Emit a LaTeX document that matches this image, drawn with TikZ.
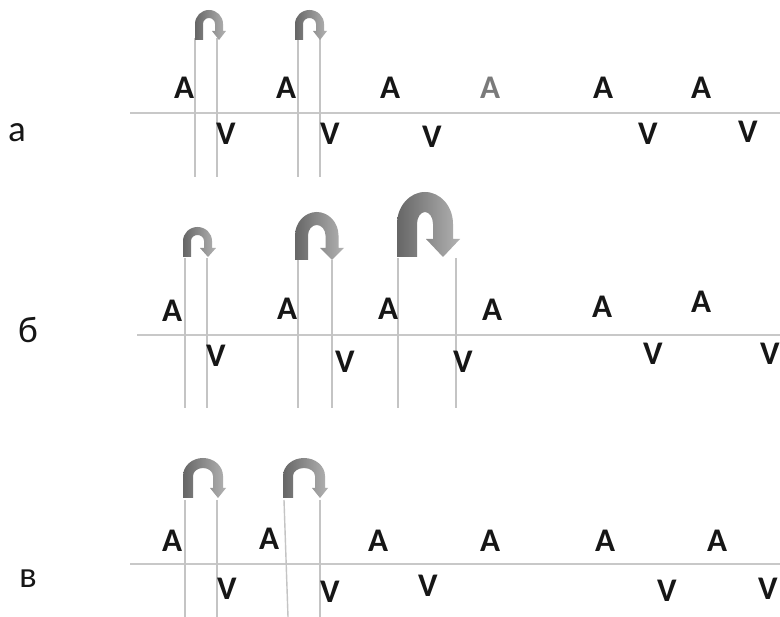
\documentclass[tikz,border=0pt]{standalone}
\usepackage{fontspec}
\setmainfont{Carlito}
\definecolor{txt}{HTML}{161616}
\definecolor{vline}{HTML}{C4C4C4}
\definecolor{hline}{HTML}{C8C8C8}
\tikzset{
  letter/.style={font=\fontsize{33}{33}\selectfont\bfseries, text=txt, anchor=base, inner sep=0pt},
  rowlabel/.style={font=\fontsize{37}{37}\selectfont, text=txt, anchor=base, inner sep=0pt},
  axisline/.style={draw=hline, line width=2pt},
  guide/.style={draw=vline, line width=1.4pt},
  arrowshade/.style={left color=black!60, right color=black!30, draw=none}
}
% #1 left x, #2 tip x, #3 base y, #4 top y, #5 thickness, #6 head half width, #7 head length, #8 inner-arc y radius
\newcommand\uarr[8]{%
  \pgfmathsetmacro\ax{#1+#5/2}%
  \pgfmathsetmacro\arx{(#2-\ax)/2}%
  \pgfmathsetmacro\ary{#8}%
  \pgfmathsetmacro\ayc{#4+#5/2+#8}%
  \pgfmathsetmacro\aorx{\arx+#5/2}%
  \pgfmathsetmacro\aory{\ary+#5/2}%
  \pgfmathsetmacro\airx{\arx-#5/2}%
  \pgfmathsetmacro\airy{\ary-#5/2}%
  \pgfmathsetmacro\ahb{#3-#7}%
  \shade[arrowshade] (#1,#3) -- (#1,\ayc)
    arc[start angle=180, end angle=360, x radius=\aorx, y radius=\aory]
    -- (#2+#5/2,\ahb) -- (#2+#6,\ahb) -- (#2,#3) -- (#2-#6,\ahb) -- (#2-#5/2,\ahb)
    -- (#2-#5/2,\ayc)
    arc[start angle=360, end angle=180, x radius=\airx, y radius=\airy]
    -- (#1+#5,#3) -- cycle;
}
\begin{document}
\begin{tikzpicture}[x=1pt,y=-1pt]
\useasboundingbox[fill=white] (0,0) rectangle (780,617);

% ---------- row a ----------
\coordinate (la1) at (130,113); \coordinate (la2) at (780,113);
\draw[axisline] (la1) -- (la2);
\coordinate (ga1t) at (195,38);  \coordinate (ga1b) at (195,177);
\coordinate (ga2t) at (217,38);  \coordinate (ga2b) at (217,177);
\coordinate (ga3t) at (298,38);  \coordinate (ga3b) at (298,177);
\coordinate (ga4t) at (320,38);  \coordinate (ga4b) at (320,177);
\draw[guide] (ga1t) -- (ga1b);
\draw[guide] (ga2t) -- (ga2b);
\draw[guide] (ga3t) -- (ga3b);
\draw[guide] (ga4t) -- (ga4b);
\uarr{195}{219}{40}{10}{8}{7}{9}{10}
\uarr{295}{320}{40}{10}{8}{7}{9}{10}
\node[rowlabel] (ra) at (17,142) {а};
\node[letter] (aA1) at (184,99) {A};
\node[letter] (aA2) at (286,99) {A};
\node[letter] (aA3) at (390,99) {A};
\node[letter, text=black!52] (aA4) at (490,99) {A};
\node[letter] (aA5) at (603,99) {A};
\node[letter] (aA6) at (701,99) {A};
\node[letter] (aV1) at (226,145) {V};
\node[letter] (aV2) at (330,145) {V};
\node[letter] (aV3) at (432,148) {V};
\node[letter] (aV4) at (648,145) {V};
\node[letter] (aV5) at (748,143) {V};

% ---------- row b ----------
\coordinate (lb1) at (137,335); \coordinate (lb2) at (780,335);
\draw[axisline] (lb1) -- (lb2);
\coordinate (gb1t) at (185,258); \coordinate (gb1b) at (185,408);
\coordinate (gb2t) at (207,258); \coordinate (gb2b) at (207,408);
\coordinate (gb3t) at (298,260); \coordinate (gb3b) at (298,408);
\coordinate (gb4t) at (332,260); \coordinate (gb4b) at (332,408);
\coordinate (gb5t) at (398,258); \coordinate (gb5b) at (398,408);
\coordinate (gb6t) at (456,258); \coordinate (gb6b) at (456,408);
\draw[guide] (gb1t) -- (gb1b);
\draw[guide] (gb2t) -- (gb2b);
\draw[guide] (gb3t) -- (gb3b);
\draw[guide] (gb4t) -- (gb4b);
\draw[guide] (gb5t) -- (gb5b);
\draw[guide] (gb6t) -- (gb6b);
\uarr{183}{208}{257}{227}{8}{8}{9}{10}
\uarr{295}{332}{260}{212}{13}{12}{12}{17}
\uarr{397}{443}{257}{192}{20}{17}{18}{22}
\node[rowlabel] (rb) at (28,343) {б};
\node[letter] (bA1) at (172,322) {A};
\node[letter] (bA2) at (287,320) {A};
\node[letter] (bA3) at (388,320) {A};
\node[letter] (bA4) at (492,321) {A};
\node[letter] (bA5) at (602,318) {A};
\node[letter] (bA6) at (701,313) {A};
\node[letter] (bV1) at (216,367) {V};
\node[letter] (bV2) at (345,373) {V};
\node[letter] (bV3) at (463,373) {V};
\node[letter] (bV4) at (653,365) {V};
\node[letter] (bV5) at (770,365) {V};

% ---------- row c ----------
\coordinate (lc1) at (130,564); \coordinate (lc2) at (780,564);
\draw[axisline] (lc1) -- (lc2);
\coordinate (gc1t) at (185,500); \coordinate (gc1b) at (185,617);
\coordinate (gc2t) at (217,500); \coordinate (gc2b) at (217,617);
\coordinate (gc3t) at (284,500); \coordinate (gc3b) at (288,617);
\coordinate (gc4t) at (320,500); \coordinate (gc4b) at (320,617);
\draw[guide] (gc1t) -- (gc1b);
\draw[guide] (gc2t) -- (gc2b);
\draw[guide] (gc3t) -- (gc3b);
\draw[guide] (gc4t) -- (gc4b);
\uarr{183}{218}{498}{458}{10}{8}{10}{13}
\uarr{283}{320}{498}{458}{10}{8}{10}{13}
\node[rowlabel] (rc) at (28,588) {в};
\node[letter] (cA1) at (172,552) {A};
\node[letter] (cA2) at (269,550) {A};
\node[letter] (cA3) at (378,552) {A};
\node[letter] (cA4) at (490,552) {A};
\node[letter] (cA5) at (605,552) {A};
\node[letter] (cA6) at (717,552) {A};
\node[letter] (cV1) at (227,600) {V};
\node[letter] (cV2) at (330,603) {V};
\node[letter] (cV3) at (428,597) {V};
\node[letter] (cV4) at (667,602) {V};
\node[letter] (cV5) at (768,600) {V};
\end{tikzpicture}
\end{document}
